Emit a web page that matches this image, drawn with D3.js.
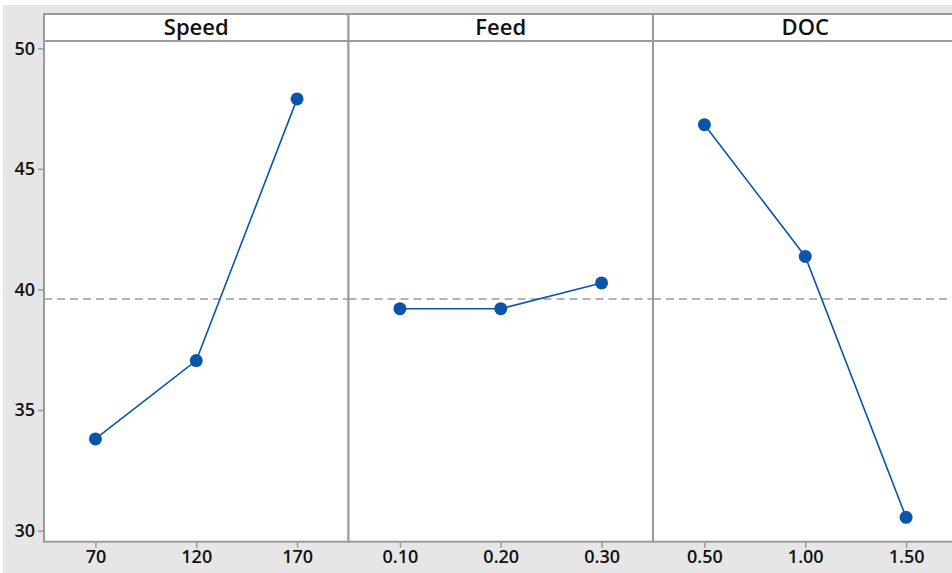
<!DOCTYPE html>
<html>
<head>
<meta charset="utf-8">
<script src="https://cdn.jsdelivr.net/npm/d3@7"></script>
<style>
  body { margin: 0; background: #fff; }
  svg text { font-family: "Open Sans", "Noto Sans", sans-serif; fill: #111; }
</style>
</head>
<body>
<div id="root"></div>
<script>
// main effects plot for means
var factors = ["Speed", "Feed", "DOC"];
var levels = {
    Speed: ["70", "120", "170"],
    Feed: ["0.10", "0.20", "0.30"],
    DOC: ["0.50", "1.00", "1.50"]
};
var means = {
    Speed: [33.8, 37.05, 47.9],
    Feed: [39.2, 39.2, 40.27],
    DOC: [46.83, 41.37, 30.55]
};
var grandMean = 39.6;
var yTicks = [30, 35, 40, 45, 50];

var width = 952, height = 573;
var padLeft = 44, padTop = 14, strip = 27, plotBottom = 541.7, panelW = 304.5;

var svg = d3.select("#root").append("svg")
    .attr("width", width)
    .attr("height", height);

svg.append("rect")
    .attr("x", 3).attr("y", 5)
    .attr("width", width).attr("height", height)
    .style("fill", "#e6e6e6");

var y = d3.scaleLinear()
    .domain([29.54, 50.3])
    .range([plotBottom, padTop + strip]);

var gray = "#9b9b9b", blue = "#0a55a8";

factors.forEach(function(f, i){
    var x0 = padLeft + i * panelW;
    var g = svg.append("g").attr("transform", "translate(" + x0 + ",0)");

    var x = d3.scalePoint()
        .domain(levels[f])
        .range([0, panelW])
        .padding(0.51);

    g.append("rect")
        .attr("x", 0).attr("y", padTop)
        .attr("width", panelW).attr("height", plotBottom - padTop)
        .style("fill", "#fff");

    // dashed reference line
    g.append("line")
        .attr("x1", 0).attr("x2", panelW)
        .attr("y1", y(grandMean)).attr("y2", y(grandMean))
        .style("stroke", gray)
        .style("stroke-width", 1.6)
        .style("stroke-dasharray", "8,5");

    var line = d3.line()
        .x(function(d, j){ return x(levels[f][j]); })
        .y(function(d){ return y(d); });

    g.append("path")
        .datum(means[f])
        .attr("d", line)
        .style("fill", "none")
        .style("stroke", blue)
        .style("stroke-width", 1.6);

    g.selectAll(".pt")
        .data(means[f])
        .enter()
        .append("circle")
        .attr("class", "pt")
        .attr("cx", function(d, j){ return x(levels[f][j]); })
        .attr("cy", function(d){ return y(d); })
        .attr("r", 6.5)
        .style("fill", blue);

    // x axis
    var xAxis = g.append("g")
        .attr("transform", "translate(0," + plotBottom + ")")
        .call(d3.axisBottom(x).tickSize(6).tickSizeOuter(0));
    xAxis.select(".domain").remove();
    xAxis.selectAll("line").style("stroke", gray).style("stroke-width", 1.5);
    xAxis.selectAll("text")
        .attr("dy", "0.71em")
        .attr("y", 9)
        .style("font-size", "18px")
        .style("font-weight", 600)
        .style("fill", "#111");

    // strip header + borders
    g.append("line")
        .attr("x1", 0).attr("x2", panelW)
        .attr("y1", padTop + strip).attr("y2", padTop + strip)
        .style("stroke", gray).style("stroke-width", 2);
    g.append("rect")
        .attr("x", 0).attr("y", padTop)
        .attr("width", panelW).attr("height", plotBottom - padTop)
        .style("fill", "none")
        .style("stroke", gray)
        .style("stroke-width", 2);

    g.append("text")
        .attr("x", panelW / 2)
        .attr("y", padTop + strip / 2)
        .attr("dy", "0.35em")
        .attr("text-anchor", "middle")
        .style("font-size", "22px")
        .style("font-weight", 600)
        .text(f);
});

// y axis
var yAxis = svg.append("g")
    .attr("transform", "translate(" + padLeft + ",0)")
    .call(d3.axisLeft(y).tickValues(yTicks).tickSize(6).tickSizeOuter(0));
yAxis.select(".domain").remove();
yAxis.selectAll("line").style("stroke", gray).style("stroke-width", 1.5);
yAxis.selectAll("text")
    .attr("x", -9)
    .style("font-size", "18px")
    .style("font-weight", 600)
    .style("fill", "#111");
</script>
</body>
</html>
